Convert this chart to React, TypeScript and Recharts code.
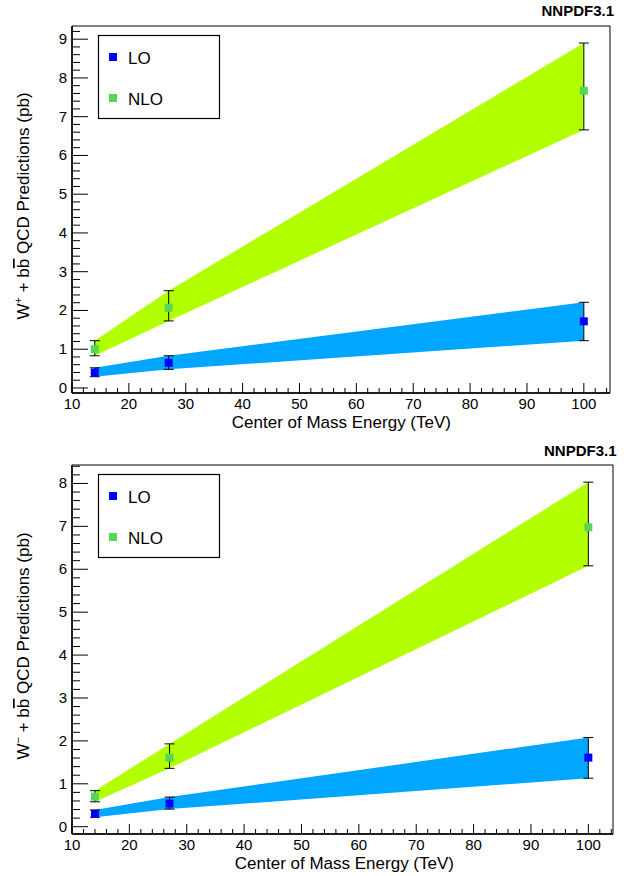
import {
  ComposedChart,
  Area,
  Scatter,
  ErrorBar,
  XAxis,
  YAxis,
  ReferenceArea,
  Label,
} from "recharts";

const FONT = "'Liberation Sans', Arial, Helvetica, sans-serif";

// collision energies (TeV)
const energies = [14, 27, 100];

// W+ + bb panel
const wpLo = [0.4, 0.65, 1.72];
const wpLoLow = [0.29, 0.48, 1.22];
const wpLoHigh = [0.52, 0.83, 2.21];
const wpNlo = [1.0, 2.07, 7.67];
const wpNloLow = [0.83, 1.73, 6.66];
const wpNloHigh = [1.22, 2.51, 8.9];

// W- + bb panel
const wmLo = [0.3, 0.54, 1.61];
const wmLoLow = [0.22, 0.41, 1.13];
const wmLoHigh = [0.39, 0.69, 2.08];
const wmNlo = [0.7, 1.61, 6.98];
const wmNloLow = [0.58, 1.36, 6.08];
const wmNloHigh = [0.84, 1.93, 8.03];

// axis ticks (majors get a label, the rest are minor ticks)
const xTicks = [10, 12, 14, 16, 18, 20, 22, 24, 26, 28, 30, 32, 34, 36, 38, 40, 42, 44, 46, 48, 50, 52, 54, 56, 58, 60, 62, 64, 66, 68, 70, 72, 74, 76, 78, 80, 82, 84, 86, 88, 90, 92, 94, 96, 98, 100, 102, 104];
const yTicksTop = Array.from({ length: 47 }, (_, i) => Math.round(i * 2) / 10);
const yTicksBottom = Array.from({ length: 43 }, (_, i) => Math.round(i * 2) / 10);

const seriesNames = ["LO", "NLO"];
const title = "NNPDF3.1";
const xTitle = "Center of Mass Energy (TeV)";

const LO_BAND = "#00a6ff";
const NLO_BAND = "#b2ff00";
const LO_MARK = "#0000ff";
const NLO_MARK = "#55d655";

function buildRows(
  lo: number[],
  loLow: number[],
  loHigh: number[],
  nlo: number[],
  nloLow: number[],
  nloHigh: number[]
) {
  return energies.map((x, i) => ({
    x,
    loBand: [loLow[i], loHigh[i]],
    nloBand: [nloLow[i], nloHigh[i]],
    lo: lo[i],
    loErr: [lo[i] - loLow[i], loHigh[i] - lo[i]],
    nlo: nlo[i],
    nloErr: [nlo[i] - nloLow[i], nloHigh[i] - nlo[i]],
  }));
}

const XTick = (props: any) => {
  const { x, y, payload } = props;
  const v = payload.value;
  const major = v % 10 === 0;
  return (
    <g>
      <line x1={x} x2={x} y1={y} y2={y - (major ? 10 : 5)} stroke="#000" strokeWidth={1} />
      {major && (
        <text x={x} y={y + 16} textAnchor="middle" fontSize={15} fontFamily={FONT} fill="#000">
          {v}
        </text>
      )}
    </g>
  );
};

const YTick = (props: any) => {
  const { x, y, payload } = props;
  const v = payload.value;
  const major = Math.abs(v - Math.round(v)) < 1e-6;
  return (
    <g>
      <line x1={x} x2={x + (major ? 16 : 8)} y1={y} y2={y} stroke="#000" strokeWidth={1} />
      {major && (
        <text x={x - 5} y={y + 5} textAnchor="end" fontSize={15} fontFamily={FONT} fill="#000">
          {Math.round(v)}
        </text>
      )}
    </g>
  );
};

type PanelProps = {
  rows: ReturnType<typeof buildRows>;
  charge: "+" | "−";
  xDomain: [number, number];
  yDomain: [number, number];
  yTicks: number[];
  top: number;
  xAxisHeight: number;
  right: number;
  titleRight: number;
  titleY: number;
  legendY: number;
};

function Panel({ rows, charge, xDomain, yDomain, yTicks, top, xAxisHeight, right, titleRight, titleY, legendY }: PanelProps) {
  return (
    <div style={{ position: "relative", width: 630, height: 438 }}>
      <ComposedChart
        width={630}
        height={438}
        data={rows}
        margin={{ top, right, bottom: 0, left: 0 }}
      >
        <XAxis
          dataKey="x"
          type="number"
          domain={xDomain}
          allowDataOverflow
          ticks={xTicks}
          interval={0}
          height={xAxisHeight}
          tickSize={0}
          tickMargin={0}
          tickLine={false}
          tick={<XTick />}
          axisLine={{ stroke: "#000", strokeWidth: 1.5 }}
        >
          <Label
            content={(p: any) => {
              const vb = p.viewBox;
              return (
                <text x={vb.x + vb.width - 159} y={vb.y + 35} textAnchor="end" fontSize={17} fontFamily={FONT} fill="#000">
                  {xTitle}
                </text>
              );
            }}
          />
        </XAxis>
        <YAxis
          type="number"
          domain={yDomain}
          allowDataOverflow
          ticks={yTicks}
          interval={0}
          width={72}
          tickSize={0}
          tickMargin={0}
          tickLine={false}
          tick={<YTick />}
          axisLine={{ stroke: "#000", strokeWidth: 1.5 }}
        >
          <Label
            content={(p: any) => {
              const vb = p.viewBox;
              const cx = 29;
              const cy = vb.y + vb.height / 2 - 3.5;
              return (
                <text
                  x={cx}
                  y={cy}
                  transform={`rotate(-90 ${cx} ${cy})`}
                  textAnchor="middle"
                  fontSize={17}
                  fontFamily={FONT}
                  fill="#000"
                  style={{ whiteSpace: "pre" }}
                >
                  <tspan>W</tspan>
                  <tspan dy={-7} fontSize={11}>{charge}</tspan>
                  <tspan dy={7}>{" + b"}</tspan>
                  <tspan style={{ textDecoration: "overline" }}>b</tspan>
                  <tspan>{" QCD Predictions (pb)"}</tspan>
                </text>
              );
            }}
          />
        </YAxis>
        <ReferenceArea
          x1={xDomain[0]}
          x2={xDomain[1]}
          y1={yDomain[0]}
          y2={yDomain[1]}
          fill="none"
          stroke="#000"
          strokeWidth={1}
          ifOverflow="visible"
        />
        <Area
          type="linear"
          dataKey="nloBand"
          fill={NLO_BAND}
          fillOpacity={1}
          stroke="none"
          dot={false}
          activeDot={false}
          isAnimationActive={false}
        />
        <Area
          type="linear"
          dataKey="loBand"
          fill={LO_BAND}
          fillOpacity={1}
          stroke="none"
          dot={false}
          activeDot={false}
          isAnimationActive={false}
        />
        <Scatter dataKey="nlo" name="NLO" shape="square" fill={NLO_MARK} isAnimationActive={false}>
          <ErrorBar dataKey="nloErr" direction="y" width={5} stroke="#000" strokeWidth={1} isAnimationActive={false} />
        </Scatter>
        <Scatter dataKey="lo" name="LO" shape="square" fill={LO_MARK} isAnimationActive={false}>
          <ErrorBar dataKey="loErr" direction="y" width={5} stroke="#000" strokeWidth={1} isAnimationActive={false} />
        </Scatter>
      </ComposedChart>
      <svg
        width={630}
        height={438}
        style={{ position: "absolute", left: 0, top: 0, pointerEvents: "none" }}
      >
        <text x={titleRight} y={titleY} textAnchor="end" fontSize={15} fontWeight="bold" fontFamily={FONT} fill="#000">
          {title}
        </text>
        <rect x={98.5} y={legendY} width={121} height={83} fill="#fff" stroke="#000" strokeWidth={1.2} />
        <rect x={109} y={legendY + 17.5} width={8} height={8} fill={LO_MARK} />
        <text x={128} y={legendY + 28} fontSize={17} fontFamily={FONT} fill="#000">
          {seriesNames[0]}
        </text>
        <rect x={109} y={legendY + 58.5} width={8} height={8} fill={NLO_MARK} />
        <text x={128} y={legendY + 69} fontSize={17} fontFamily={FONT} fill="#000">
          {seriesNames[1]}
        </text>
      </svg>
    </div>
  );
}

export default function App() {
  const rowsPlus = buildRows(wpLo, wpLoLow, wpLoHigh, wpNlo, wpNloLow, wpNloHigh);
  const rowsMinus = buildRows(wmLo, wmLoLow, wmLoHigh, wmNlo, wmNloLow, wmNloHigh);
  return (
    <div style={{ position: "absolute", left: 0, top: 0, width: 630, height: 876, background: "#fff" }}>
      <Panel
        rows={rowsPlus}
        charge="+"
        xDomain={[10, 104.6]}
        yDomain={[-0.13, 9.34]}
        yTicks={yTicksTop}
        top={26}
        xAxisHeight={45}
        right={20}
        titleRight={614}
        titleY={16}
        legendY={35.5}
      />
      <Panel
        rows={rowsMinus}
        charge="−"
        xDomain={[10, 104.3]}
        yDomain={[-0.17, 8.43]}
        yTicks={yTicksBottom}
        top={27}
        xAxisHeight={42}
        right={17}
        titleRight={616.5}
        titleY={17.5}
        legendY={36.5}
      />
    </div>
  );
}
